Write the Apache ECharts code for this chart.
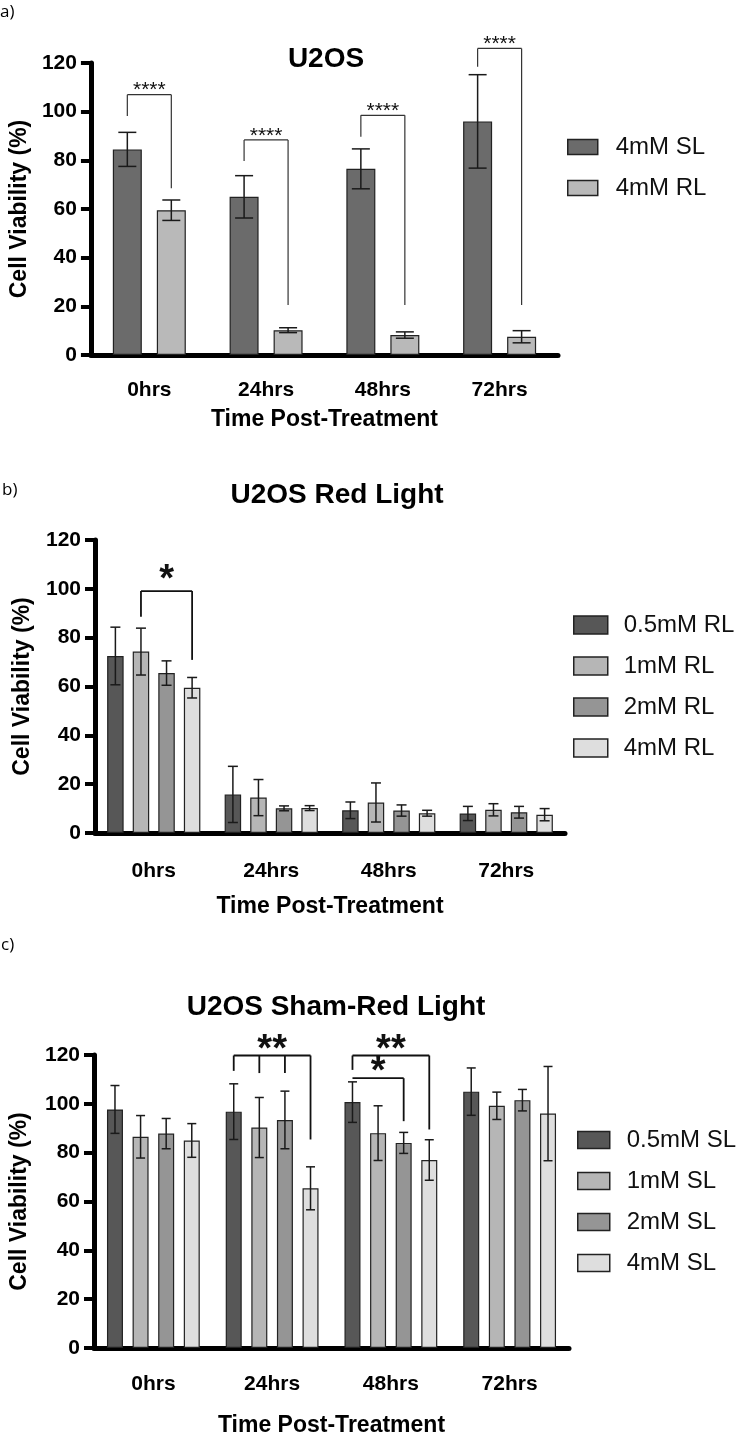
<!DOCTYPE html>
<html>
<head>
<meta charset="utf-8">
<script src="https://cdn.jsdelivr.net/npm/echarts@6/dist/echarts.min.js"></script>
<style>html,body{margin:0;padding:0;background:#fff}#chart{width:738px;height:1438px}</style>
</head>
<body>
<div id="chart"></div>
<script>
// data
var timeLabels = ['0hrs', '24hrs', '48hrs', '72hrs'];

// a) U2OS
var aNames = ['4mM SL', '4mM RL'];
var aMeans = [[84.5, 65, 76.5, 96], [59.5, 10.2, 8.2, 7.5]];
var aErr = [[7, 8.7, 8.2, 19.2], [4.2, 1, 1.3, 2.5]];
// [category, bracket top, [[bar, leg bottom], ...], label]
var aSig = [
    [0, 107, [[0, 98.2], [1, 68.5]], '****'],
    [1, 88.4, [[0, 79.7], [1, 20.5]], '****'],
    [2, 98.5, [[0, 89.7], [1, 20.5]], '****'],
    [3, 126, [[0, 118.5], [1, 20.5]], '****']
];

// b) U2OS Red Light
var bNames = ['0.5mM RL', '1mM RL', '2mM RL', '4mM RL'];
var bMeans = [[72.5, 15.8, 9.3, 8], [74.3, 14.5, 12.5, 9.5], [65.5, 10.1, 9.2, 8.5], [59.5, 10.2, 8.1, 7.5]];
var bErr = [[11.8, 11.5, 3.4, 2.9], [9.6, 7.4, 8, 2.5], [5, 1, 2.3, 2.4], [4.2, 1, 1.2, 2.5]];
var bSig = [
    [0, 99.1, [[1, 88.6], [3, 70.9]], '*']
];

// c) U2OS Sham-Red Light
var cNames = ['0.5mM SL', '1mM SL', '2mM SL', '4mM SL'];
var cMeans = [[97.7, 96.8, 100.7, 105], [86.5, 90.3, 88, 99.2], [87.8, 93.4, 84, 101.5], [85, 65.4, 77, 96]];
var cErr = [[9.8, 11.4, 8.3, 9.7], [8.7, 12.3, 11.2, 5.6], [6.2, 11.8, 4.3, 4.4], [6.9, 8.8, 8.3, 19.3]];
var cSig = [
    [1, 119.8, [[0, 113.5], [1, 112.6], [2, 112.6], [3, 85.4]], '**'],
    [2, 119.8, [[0, 113.9], [3, 89.5]], '**'],
    [2, 110.5, [[0, 110.5], [2, 92.9]], '*']
];

// styles
var aColors = ['#6b6b6b', '#b9b9b9'];
var bColors = ['#575757', '#b6b6b6', '#959595', '#dedede'];
var cColors = ['#575757', '#b6b6b6', '#959595', '#dedede'];

var FONT = 'Liberation Sans, Arial, sans-serif';

var panels = [
    {names: aNames, means: aMeans, errs: aErr, sig: aSig, colors: aColors,
     title: 'U2OS', titleX: 321, titleY: 56,
     grid: {left: 90, top: 63, width: 468, height: 292},
     barWidth: 29, barGap: 0.517, cap: 18,
     yNameGap: 58, xNameGap: 53, xLabelMargin: 25,
     legend: {left: 567, top: 135, w: 30, h: 15, pad: 13},
     star: {size: 21, weight: 'normal', gap: 8, line: 1.2, color: '#333'}},
    {names: bNames, means: bMeans, errs: bErr, sig: bSig, colors: bColors,
     title: 'U2OS Red Light', titleX: 332, titleY: 492,
     grid: {left: 95, top: 540, width: 470, height: 293},
     barWidth: 16.5, barGap: 0.55, cap: 10,
     yNameGap: 61, xNameGap: 62, xLabelMargin: 28,
     legend: {left: 573, top: 613, w: 34, h: 18, pad: 11},
     star: {size: 38, weight: 'bold', gap: 18, line: 1.8, color: '#111'}},
    {names: cNames, means: cMeans, errs: cErr, sig: cSig, colors: cColors,
     title: 'U2OS Sham-Red Light', titleX: 331, titleY: 1004,
     grid: {left: 93, top: 1055, width: 476, height: 295},
     barWidth: 16, barGap: 0.6, cap: 9,
     yNameGap: 63, xNameGap: 66, xLabelMargin: 26,
     legend: {left: 577, top: 1128, w: 32, h: 17, pad: 12},
     star: {size: 38, weight: 'bold', gap: 12.5, line: 1.8, color: '#111'}}
];

function barOffset(p, b) {
    var n = p.names.length;
    return (b - (n - 1) / 2) * p.barWidth * (1 + p.barGap);
}

function errRender(p, si) {
    return function (params, api) {
        var cat = api.value(0), m = api.value(1), e = api.value(2);
        var t = api.coord([cat, m + e]);
        var b = api.coord([cat, m - e]);
        var x = t[0] + barOffset(p, si);
        var hw = p.cap / 2;
        var st = {stroke: '#1a1a1a', lineWidth: 1.5};
        return {type: 'group', children: [
            {type: 'line', shape: {x1: x, y1: t[1], x2: x, y2: b[1]}, style: st},
            {type: 'line', shape: {x1: x - hw, y1: t[1], x2: x + hw, y2: t[1]}, style: st},
            {type: 'line', shape: {x1: x - hw, y1: b[1], x2: x + hw, y2: b[1]}, style: st}
        ]};
    };
}

function sigRender(p) {
    return function (params, api) {
        var s = p.sig[params.dataIndex];
        var cat = s[0], legs = s[2];
        var cx = api.coord([cat, 0])[0];
        var yTop = api.coord([cat, s[1]])[1];
        var st = {stroke: p.star.color, lineWidth: p.star.line, fill: null};
        var x0 = cx + barOffset(p, legs[0][0]);
        var x1 = cx + barOffset(p, legs[legs.length - 1][0]);
        var kids = [{type: 'line', shape: {x1: x0, y1: yTop, x2: x1, y2: yTop}, style: st}];
        legs.forEach(function (l) {
            var x = cx + barOffset(p, l[0]);
            kids.push({type: 'line', shape: {x1: x, y1: yTop, x2: x, y2: api.coord([cat, l[1]])[1]}, style: st});
        });
        kids.push({type: 'text', x: (x0 + x1) / 2, y: yTop - p.star.gap + 0.19 * p.star.size,
            style: {text: s[3], fontSize: p.star.size, fontWeight: p.star.weight, fontFamily: FONT,
                fill: '#111', align: 'center', verticalAlign: 'middle'}});
        return {type: 'group', children: kids};
    };
}

var option = {
    animation: false,
    backgroundColor: '#fff',
    title: [], grid: [], xAxis: [], yAxis: [], legend: [], series: [],
    graphic: [
        {type: 'text', left: 0, top: 4, style: {text: 'a)', fontSize: 17, fontFamily: 'Open Sans', fill: '#000'}},
        {type: 'text', left: 2, top: 482, style: {text: 'b)', fontSize: 17, fontFamily: 'Open Sans', fill: '#000'}},
        {type: 'text', left: 1, top: 937, style: {text: 'c)', fontSize: 17, fontFamily: 'Open Sans', fill: '#000'}}
    ]
};

panels.forEach(function (p, gi) {
    option.title.push({
        text: p.title, left: p.titleX, top: p.titleY - 16, textAlign: 'center',
        textStyle: {fontSize: 28, fontWeight: 'bold', fontFamily: FONT, color: '#000'}
    });
    option.grid.push(p.grid);
    option.xAxis.push({
        type: 'category', gridIndex: gi, data: timeLabels,
        name: 'Time Post-Treatment', nameLocation: 'middle', nameGap: p.xNameGap,
        nameTextStyle: {fontSize: 23, fontWeight: 'bold', fontFamily: FONT, color: '#000'},
        axisLine: {lineStyle: {color: '#000', width: 5}},
        axisTick: {alignWithLabel: true, length: 14, lineStyle: {color: '#000', width: 5}},
        axisLabel: {fontSize: 21, fontWeight: 'bold', fontFamily: FONT, color: '#000', margin: p.xLabelMargin},
        splitLine: {show: false}
    });
    option.yAxis.push({
        type: 'value', gridIndex: gi, min: 0, max: 120, interval: 20,
        name: 'Cell Viability (%)', nameLocation: 'middle', nameGap: p.yNameGap, nameRotate: 90,
        nameTextStyle: {fontSize: 23, fontWeight: 'bold', fontFamily: FONT, color: '#000'},
        axisLine: {show: true, lineStyle: {color: '#000', width: 5}},
        axisTick: {show: true, length: 10, lineStyle: {color: '#000', width: 4}},
        axisLabel: {fontSize: 21, fontWeight: 'bold', fontFamily: FONT, color: '#000', margin: 14},
        splitLine: {show: false}
    });
    option.legend.push({
        left: p.legend.left, top: p.legend.top, orient: 'vertical', padding: 0,
        itemWidth: p.legend.w, itemHeight: p.legend.h, itemGap: 17,
        selectedMode: false, icon: 'rect',
        textStyle: {fontSize: 24, lineHeight: 24, fontFamily: FONT, color: '#111', padding: [0, 0, 0, p.legend.pad]},
        data: p.names.map(function (nm, i) {
            return {name: nm, itemStyle: {color: p.colors[i], borderColor: '#222', borderWidth: 1.5}};
        })
    });
    p.names.forEach(function (nm, si) {
        option.series.push({
            type: 'bar', name: nm, xAxisIndex: gi, yAxisIndex: gi,
            barWidth: p.barWidth, barGap: (p.barGap * 100) + '%',
            itemStyle: {color: p.colors[si], borderColor: '#222', borderWidth: 1.2},
            data: p.means[si]
        });
    });
    p.names.forEach(function (nm, si) {
        option.series.push({
            type: 'custom', name: 'err' + gi + '_' + si, xAxisIndex: gi, yAxisIndex: gi, z: 5,
            renderItem: errRender(p, si),
            data: p.means[si].map(function (m, ci) { return [ci, m, p.errs[si][ci]]; })
        });
    });
    option.series.push({
        type: 'custom', name: 'sig' + gi, xAxisIndex: gi, yAxisIndex: gi, z: 6, clip: false,
        renderItem: sigRender(p),
        data: p.sig.map(function (s) { return [s[0], s[1]]; })
    });
});

var myChart = echarts.init(document.getElementById('chart'));
myChart.setOption(option);
</script>
</body>
</html>
